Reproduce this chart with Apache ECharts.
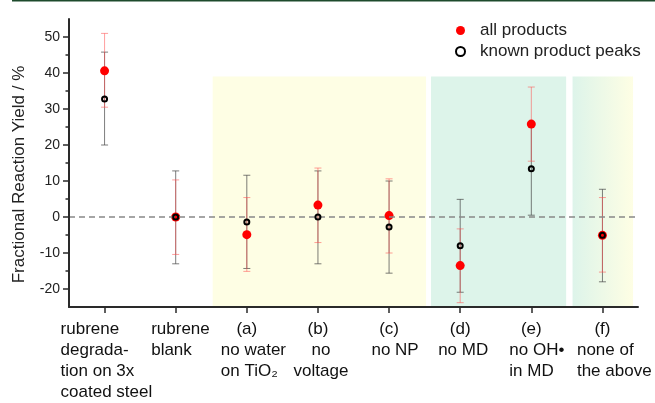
<!DOCTYPE html>
<html>
<head>
<meta charset="utf-8">
<script src="https://cdn.jsdelivr.net/npm/echarts@6/dist/echarts.min.js"></script>
<style>
html, body { margin: 0; padding: 0; background: #fff; }
#main { width: 655px; height: 403px; }
</style>
</head>
<body>
<div id="main"></div>
<script>
// categories along x
const categories = [
  'rubrene\ndegrada-\ntion on 3x\ncoated steel',
  'rubrene\nblank',
  '(a)\nno water\non TiO₂',
  '(b)\nno\nvoltage',
  '(c)\nno NP',
  '(d)\nno MD',
  '(e)\nno OH•\nin MD',
  '(f)\nnone of\nthe above'
];

// all products (red)
const allProducts = [40.6, 0, -4.9, 3.3, 0.4, -13.5, 25.8, -5.1];
const allLow      = [30.5, -10.4, -15.1, -7.1, -10.0, -23.8, 15.5, -15.3];
const allHigh     = [51.0, 10.3, 5.4, 13.6, 10.6, -3.3, 36.1, 5.4];

// known product peaks (black rings)
const knownPeaks = [32.8, 0, -1.4, 0, -2.8, -8.0, 13.4, -5.1];
const knownLow   = [20.0, -13.0, -14.3, -13.0, -15.6, -20.9, 0.5, -18.0];
const knownHigh  = [45.8, 12.8, 11.6, 12.8, 10.0, 4.9, 26.3, 7.7];

// y ticks
const yMajorTicks = [-20, -10, 0, 10, 20, 30, 40, 50];
const yMinorTicks = [-15, -5, 5, 15, 25, 35, 45];

// shaded condition groups, in category units (0..8) and y top
const bandFrom = [2.02, 5.09, 7.08];
const bandTo   = [5.02, 6.99, 7.93];
const bandTop  = 39;

const font = '"Liberation Sans", Arial, sans-serif';
const chart = echarts.init(document.getElementById('main'));

// x label layout: left-aligned blocks, parenthesised letters centred
const labelMode  = ['left', 'left', 'left', 'center', 'center', 'center', 'left', 'left'];
const labelShift = [2, 5, 7, 3, 6, 3, 6, 12];
const ctx = document.createElement('canvas').getContext('2d');
ctx.font = '17px ' + font;
const rich = {};
const labelLines = categories.map(c => c.split('\n'));
labelLines.forEach((lines, i) => {
  const body = lines.filter(l => !/^\(.\)$/.test(l));
  const w = Math.ceil(Math.max(...body.map(l => ctx.measureText(l).width)));
  rich['b' + i] = { width: w, align: labelMode[i], fontSize: 17, lineHeight: 21, fontFamily: font, color: '#111' };
  rich['s' + i] = { width: Math.max(1, 2 * labelShift[i]), align: labelMode[i], fontSize: 17, lineHeight: 21, fontFamily: font };
});

function errorSeries(low, high, color) {
  return {
    type: 'custom',
    silent: true,
    z: 3,
    data: low.map((l, i) => [i, l, high[i]]),
    encode: { x: 0, y: [1, 2] },
    renderItem: function (params, api) {
      const i = api.value(0);
      const lo = api.coord([i, api.value(1)]);
      const hi = api.coord([i, api.value(2)]);
      const hw = 3.5;
      const style = { stroke: color, lineWidth: 1, fill: null };
      return {
        type: 'group',
        children: [
          { type: 'line', shape: { x1: lo[0], y1: lo[1], x2: hi[0], y2: hi[1] }, style: style },
          { type: 'line', shape: { x1: lo[0] - hw, y1: lo[1], x2: lo[0] + hw, y2: lo[1] }, style: style },
          { type: 'line', shape: { x1: hi[0] - hw, y1: hi[1], x2: hi[0] + hw, y2: hi[1] }, style: style }
        ]
      };
    }
  };
}

const green = '#ddf4ea';
const yellow = '#fefee4';
const bandColors = [
  yellow,
  green,
  new echarts.graphic.LinearGradient(0, 0, 1, 0, [
    { offset: 0, color: green },
    { offset: 1, color: yellow }
  ])
];

const option = {
  backgroundColor: '#fff',
  animation: false,
  textStyle: { fontFamily: font },
  graphic: [{
    type: 'rect', left: 12, top: 0,
    shape: { width: 643, height: 1.5 },
    style: { fill: '#1d4a2c' }
  }],
  grid: { left: 69, right: 17, top: 19, bottom: 90 },
  legend: {
    orient: 'vertical',
    left: 450,
    top: 17,
    itemWidth: 9,
    itemHeight: 9,
    itemGap: 4,
    selectedMode: false,
    data: ['all products', 'known product peaks'],
    textStyle: { fontSize: 17, color: '#222', fontFamily: font, padding: [0, 0, 0, 10] }
  },
  xAxis: [{
    type: 'category',
    data: categories,
    boundaryGap: true,
    position: 'bottom',
    z: 10,
    axisLine: { show: true, onZero: false, lineStyle: { color: '#2a2a2a', width: 2 } },
    axisTick: { show: true, alignWithLabel: true, length: 6, interval: 0, lineStyle: { color: '#2a2a2a', width: 1.5 } },
    axisLabel: {
      interval: 0,
      margin: 12,
      fontSize: 17,
      lineHeight: 21,
      color: '#111',
      fontFamily: font,
      rich: rich,
      formatter: function (value, index) {
        return labelLines[index].map(l => /^\(.\)$/.test(l) ? l : '{s' + index + '| }{b' + index + '|' + l + '}').join('\n');
      }
    },
    splitLine: { show: false }
  }, {
    type: 'value', min: 0, max: 8, show: false, position: 'top'
  }],
  yAxis: [{
    type: 'value',
    min: -25,
    max: 55,
    z: 10,
    name: 'Fractional Reaction Yield / %',
    nameLocation: 'middle',
    nameGap: 41,
    nameTextStyle: { fontSize: 17, color: '#222', fontFamily: font, padding: [0, 23, 0, 0] },
    axisLine: { show: true, onZero: false, lineStyle: { color: '#2a2a2a', width: 2 } },
    axisTick: { show: true, length: 6, customValues: yMajorTicks, lineStyle: { color: '#2a2a2a', width: 1.5 } },
    axisLabel: { customValues: yMajorTicks, fontSize: 14, color: '#222', margin: 9, fontFamily: font },
    splitLine: { show: false }
  }, {
    type: 'value',
    min: -25,
    max: 55,
    position: 'left',
    z: 10,
    axisLine: { show: false, onZero: false },
    axisTick: { show: true, length: 3.5, customValues: yMinorTicks, lineStyle: { color: '#2a2a2a', width: 1.5 } },
    axisLabel: { show: false },
    splitLine: { show: false }
  }],
  series: [
    {
      type: 'line',
      xAxisIndex: 1,
      yAxisIndex: 0,
      data: [],
      silent: true,
      z: 0,
      markArea: {
        silent: true,
        data: bandFrom.map((f, i) => [
          { xAxis: f, yAxis: -25, itemStyle: { color: bandColors[i] } },
          { xAxis: bandTo[i], yAxis: bandTop }
        ])
      },
      markLine: {
        silent: true,
        symbol: 'none',
        label: { show: false },
        lineStyle: { type: [6, 4], color: '#888', width: 1.5 },
        data: [{ yAxis: 0 }]
      }
    },
    errorSeries(knownLow, knownHigh, 'rgba(70,70,70,0.7)'),
    errorSeries(allLow, allHigh, 'rgba(255,80,80,0.55)'),
    {
      name: 'all products',
      type: 'scatter',
      data: allProducts,
      symbol: 'circle',
      symbolSize: 9,
      z: 4,
      itemStyle: { color: '#ff0000', opacity: 1 }
    },
    {
      name: 'known product peaks',
      type: 'scatter',
      data: knownPeaks,
      symbol: 'circle',
      symbolSize: 5,
      z: 5,
      itemStyle: { color: 'rgba(0,0,0,0)', borderColor: '#000', borderWidth: 2, opacity: 1 }
    }
  ]
};
chart.setOption(option);
</script>
</body>
</html>
